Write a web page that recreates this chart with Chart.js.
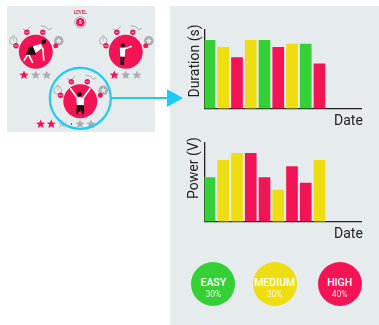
<!DOCTYPE html>
<html>
<head>
<meta charset="utf-8">
<script src="https://cdn.jsdelivr.net/npm/chart.js@4/dist/chart.umd.min.js"></script>
<style>
  html, body { margin: 0; padding: 0; background: #fff; width: 379px; height: 325px; overflow: hidden; }
  body { position: relative; font-family: Roboto, sans-serif; }
  .panel { position: absolute; background: #e6ebee; }
  #left { left: 7px; top: 6px; width: 148px; height: 126px; }
  #right { left: 170px; top: 6px; width: 209px; height: 319px; }
  canvas { position: absolute; }
  #illustration { position: absolute; left: 0; top: 0; filter: blur(0.35px); }
  .label { position: absolute; color: #222; font-size: 14px; line-height: 16px; white-space: nowrap; }
  .rot { transform: translate(-50%, -50%) rotate(-90deg); }
  .badge { position: absolute; width: 44px; height: 44px; top: 262px; border-radius: 50%; color: #fff; text-align: center; }
  .badge b { display: block; font-size: 10.5px; font-weight: 500; line-height: 12px; margin-top: 14.5px; }
  .badge span { display: block; font-size: 8.5px; line-height: 11px; opacity: .85; }
</style>
</head>
<body>
<div class="panel" id="left"></div>
<div class="panel" id="right"></div>

<svg id="illustration" width="379" height="325" viewBox="0 0 379 325">
  <defs>
    <path id="star" d="M0-4.6 1.3-1.4 4.6-1.3 2.100.8 2.900 4 0 2.200 -2.900 4 -2.100.8 -4.600-1.300 -1.300-1.400Z"/>
    <g id="rig">
      <circle cx="-22.5" cy="-11" r="3.8" fill="none" stroke="#a9adb0" stroke-width="1"/>
      <path d="M-22.5-11v-2.4M-23.8-16h2.6" stroke="#a9adb0" stroke-width=".8"/>
      <circle cx="23" cy="-11" r="4.8" fill="#a9adb0"/>
      <use href="#star" transform="translate(23 -11) scale(.7)" fill="#e6ebee"/>
      <path d="M-13-23l3 2.5 5-5" fill="none" stroke="#a9adb0" stroke-width="1"/>
      <path d="M5-26l5 1 3 3 3-1.500" fill="none" stroke="#a9adb0" stroke-width="1"/>
      <circle r="17" fill="#f31455"/>
      <circle cx="-19.800" cy="-6" r="2.700" fill="#f31455"/>
      <circle cx="20" cy="-6" r="2.500" fill="#f31455"/>
      <circle cx="-9" cy="-19.500" r="2.700" fill="#f31455"/>
      <circle cx="7" cy="-19.500" r="2.700" fill="#f31455"/>
      <path d="M-21.500-6h3.500M-10.500-19.500h3M5.500-19.500h3" stroke="#fff" stroke-width=".6"/>
    </g>
  </defs>

  <text x="80.300" y="14" text-anchor="middle" font-family="Roboto" font-weight="700" font-size="4.600" fill="#e0305f">LEVEL</text>
  <circle cx="80.300" cy="22.300" r="5.600" fill="#e6ebee" stroke="#a9adb0" stroke-width="1"/>
  <circle cx="80.300" cy="22.300" r="4.300" fill="#f31455"/>
  <text x="80.300" y="24" text-anchor="middle" font-family="Roboto" font-weight="700" font-size="4.500" fill="#fff">5</text>

  <use href="#rig" x="35.800" y="51.800"/>
  <use href="#rig" x="125.800" y="51.800"/>
  <use href="#rig" x="80.300" y="101.300"/>

  <!-- bent over figure -->
  <g transform="translate(35.800 51.800)">
    <path d="M-7 1-12 9M-7 3-3 11M7-4 8 9" stroke="#fff" stroke-width="1.600" fill="none"/>
    <path d="M-7-4-3-6 0 3-5 3-10 3Z" fill="#111"/>
    <path d="M-3-5.500 5-8 7-4 0 1Z" fill="#fff"/>
    <circle cx="8" cy="-10" r="2.400" fill="#111"/>
  </g>
  <!-- pointing figure -->
  <g transform="translate(125.800 51.800)">
    <circle cx="-3" cy="-6.500" r="2" fill="#111"/>
    <path d="M-6-4-.5-4-1 5-5.500 5Z" fill="#fff"/>
    <path d="M-1-3 6-5.500" stroke="#fff" stroke-width="1.500"/>
    <path d="M-4.500 5-4.500 13M-2 5-3 13" stroke="#111" stroke-width="1.800"/>
  </g>
  <!-- arms raised figure -->
  <g transform="translate(80.300 101.300)">
    <path d="M-3.500-4-10-13M3.500-4 10-13" stroke="#fff" stroke-width="1.700"/>
    <circle cx="-.800" cy="-7" r="2.300" fill="#111"/>
    <path d="M-4-4 4-4 3.500 4-3.500 4Z" fill="#fff"/>
    <path d="M-3.500 4 3.500 4 4 10.500 .5 10.500 0 7.500-.5 10.500-4 10.500Z" fill="#111"/>
    <path d="M-3 10.500v2.500M2.500 10.500v2.500" stroke="#111" stroke-width="1.500"/>
  </g>

  <use href="#star" x="24" y="75" fill="#f31455"/>
  <use href="#star" x="35.700" y="75" fill="#a9adb0"/>
  <use href="#star" x="46.700" y="75" fill="#a9adb0"/>
  <use href="#star" x="114.300" y="75" fill="#f31455"/>
  <use href="#star" x="125.700" y="75" fill="#a9adb0"/>
  <use href="#star" x="137" y="75" fill="#a9adb0"/>
  <use href="#star" x="40.700" y="124" fill="#f31455"/>
  <use href="#star" x="51.300" y="124" fill="#f31455"/>
  <use href="#star" x="62.300" y="124" fill="#c4c8cb"/>
  <use href="#star" x="80" y="124" fill="#a9adb0"/>
  <use href="#star" x="91" y="124" fill="#a9adb0"/>
  <rect x="71" y="123" width="1" height="2" fill="#f31455"/>

  <circle cx="80.300" cy="98.300" r="30.500" fill="none" stroke="#1fcbf4" stroke-width="2.200"/>
  <path d="M111 98H168" stroke="#1fcbf4" stroke-width="1.800"/>
  <path d="M167 89.300 183 98 167 107Z" fill="#1fcbf4"/>
</svg>

<canvas id="durationChart" style="left:170px;top:25px;width:209px;height:90px" width="209" height="90"></canvas>
<canvas id="powerChart" style="left:170px;top:138px;width:209px;height:90px" width="209" height="90"></canvas>

<div class="label rot" style="left:193.500px;top:61px">Duration (s)</div>
<div class="label" style="left:334px;top:112px">Date</div>
<div class="label rot" style="left:193px;top:168px">Power (V)</div>
<div class="label" style="left:334px;top:225px">Date</div>

<div id="badges"></div>

<script>
const dates = [1, 2, 3, 4, 5, 6, 7, 8, 9];
const durationValues = [87, 78, 65, 87, 87, 78, 82, 82, 57];
const durationLevels = ['easy', 'medium', 'high', 'medium', 'easy', 'high', 'medium', 'easy', 'high'];
const powerValues = [56, 78, 87, 87, 56, 40, 70, 49, 78];
const powerLevels = ['easy', 'medium', 'medium', 'high', 'high', 'medium', 'high', 'high', 'medium'];

const levelNames = ['EASY', 'MEDIUM', 'HIGH'];
const levelShares = ['30%', '30%', '40%'];
const levelColors = { easy: '#35d035', medium: '#eedd11', high: '#f31455' };
const badgeLeft = [191.3, 252.7, 317.7];

function barChart(id, values, levels) {
    new Chart(document.getElementById(id), {
        type: 'bar',
        data: {
            datasets: [{
                data: dates.map((d, i) => ({ x: d, y: values[i] })),
                backgroundColor: levels.map((l) => levelColors[l]),
                barThickness: 11,
            }],
        },
        options: {
            responsive: false,
            animation: false,
            layout: { padding: { left: 34.5, right: 17.3, top: 5, bottom: 6.5 } },
            plugins: { legend: { display: false }, tooltip: { enabled: false } },
            scales: {
                x: {
                    type: 'linear', min: 0.636, max: 12.07, offset: false, z: 1,
                    afterFit: (s) => { s.height = 0; s.paddingLeft = 0; s.paddingRight = 0; },
                    grid: { display: false },
                    border: { color: '#222', width: 1.3 },
                    ticks: { display: false },
                },
                y: {
                    min: 0, max: 100, z: 1,
                    afterFit: (s) => { s.width = 0; },
                    grid: { display: false },
                    border: { color: '#222', width: 1.3 },
                    ticks: { display: false },
                },
            },
        },
    });
}

barChart('durationChart', durationValues, durationLevels);
barChart('powerChart', powerValues, powerLevels);

// level badges under the charts
const badges = document.getElementById('badges');
levelNames.forEach((name, i) => {
    const el = document.createElement('div');
    el.className = 'badge';
    el.style.left = badgeLeft[i] + 'px';
    el.style.background = levelColors[name.toLowerCase()];
    el.innerHTML = '<b>' + name + '</b><span>' + levelShares[i] + '</span>';
    badges.appendChild(el);
});
</script>
</body>
</html>
